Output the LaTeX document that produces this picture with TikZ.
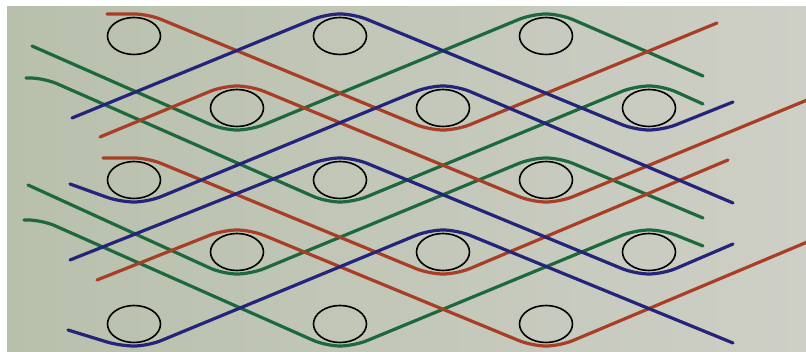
\documentclass[tikz,border=0pt]{standalone}
\usetikzlibrary{shapes.geometric}

\definecolor{rust}{RGB}{168,62,38}
\definecolor{navy}{RGB}{36,36,122}
\definecolor{leaf}{RGB}{30,104,62}
\definecolor{screenL}{RGB}{184,192,172}
\definecolor{screenR}{RGB}{206,207,198}

\begin{document}
\begin{tikzpicture}[
    x=1pt, y=-1pt,
    ring/.style={ellipse, draw, line width=1.6pt, minimum width=53pt, minimum height=37pt, inner sep=0pt},
    strand/.style={line width=3.2pt, rounded corners=14pt, line cap=round},
    redline/.style={strand, draw=rust},
    blueline/.style={strand, draw=navy},
    greenline/.style={strand, draw=leaf}
]
    \useasboundingbox (0,0) rectangle (806,352);
    % Screen
    \fill[white] (0,0) rectangle (806,352);
    \shade[left color=screenL, right color=screenR] (7,7) rectangle (806,352);

    % Circles
    \foreach \r in {0,2,4}
        \foreach \k in {0,2,4}
            \node[ring] (c\k\r) at ({134+103*\k},{36+72*\r}) {};
    \foreach \r in {1,3}
        \foreach \k in {1,3,5}
            \node[ring] (c\k\r) at ({134+103*\k},{36+72*\r}) {};

    % Green strands
    \draw[greenline] (32,46) -- (223,130) -- (251,130) -- (532,14) -- (560,14) -- (703,76);
    \draw[greenline] (26,78) -- (44,78) -- (326,202) -- (354,202) -- (635,86) -- (663,86) -- (703,104);
    \draw[greenline] (28,185) -- (223,274) -- (251,274) -- (532,158) -- (560,158) -- (703,218);
    \draw[greenline] (24,220) -- (42,220) -- (326,346) -- (354,346) -- (635,230) -- (663,230) -- (703,246);

    % Red strands
    \draw[redline] (107,14) -- (148,14) -- (429,130) -- (457,130) -- (717,23);
    \draw[redline] (100,137) -- (223,86) -- (251,86) -- (532,202) -- (560,202) -- (812,98);
    \draw[redline] (103,158) -- (148,158) -- (429,274) -- (457,274) -- (728,160);
    \draw[redline] (97,280) -- (223,230) -- (251,230) -- (532,346) -- (560,346) -- (812,240);

    % Blue strands
    \draw[blueline] (72,118) -- (326,14) -- (354,14) -- (635,130) -- (663,130) -- (733,102);
    \draw[blueline] (70,184) -- (120,202) -- (148,202) -- (429,86) -- (457,86) -- (733,203);
    \draw[blueline] (70,260) -- (326,158) -- (354,158) -- (635,274) -- (663,274) -- (733,244);
    \draw[blueline] (68,330) -- (120,346) -- (148,346) -- (429,230) -- (457,230) -- (733,343);
\end{tikzpicture}
\end{document}
